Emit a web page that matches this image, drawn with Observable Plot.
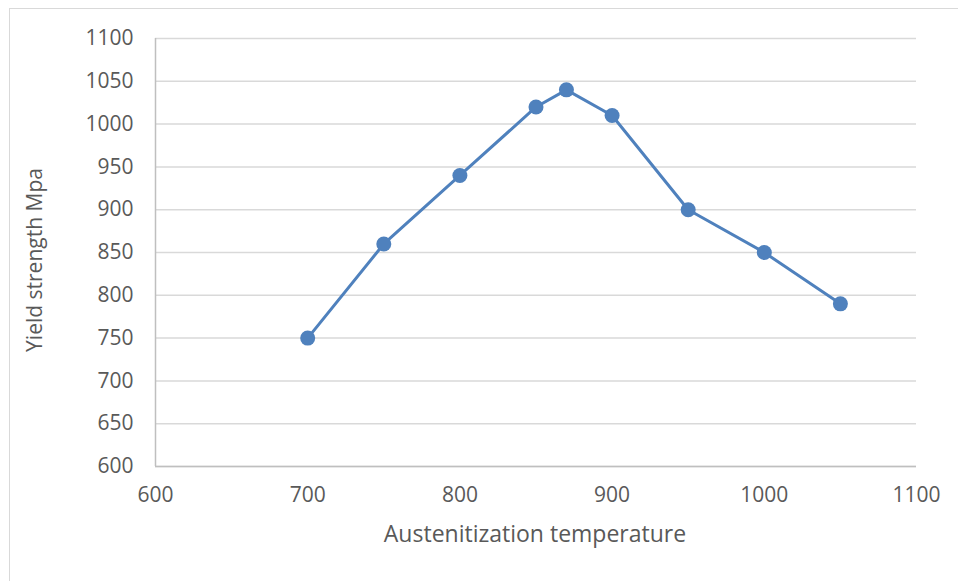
<!DOCTYPE html>
<html>
<head>
<meta charset="utf-8">
<script src="https://cdn.jsdelivr.net/npm/d3@7"></script>
<script src="https://cdn.jsdelivr.net/npm/@observablehq/plot@0.6"></script>
<style>
  html, body { margin: 0; padding: 0; background: #fff; }
  #wrap { position: relative; width: 958px; height: 581px; overflow: hidden; }
  #frame { position: absolute; left: 9px; top: 8px; width: 1000px; height: 1000px;
           border-top: 1.5px solid #d9d9d9; border-left: 1.5px solid #d9d9d9; box-sizing: border-box; }
  #chart { position: absolute; left: 0; top: 0; }
</style>
</head>
<body>
<div id="wrap"><div id="frame"></div><div id="chart"></div></div>
<script>
const temperature = [700, 750, 800, 850, 870, 900, 950, 1000, 1050];
const yieldStrength = [750, 860, 940, 1020, 1040, 1010, 900, 850, 790];
const xTicks = [600, 700, 800, 900, 1000, 1100];
const yTicks = [600, 650, 700, 750, 800, 850, 900, 950, 1000, 1050, 1100];
const xLabel = "Austenitization temperature";
const yLabel = "Yield strength Mpa";

const data = temperature.map((t, i) => ({t, y: yieldStrength[i]}));
const font = "'Open Sans', 'Noto Sans', sans-serif";
const fmt = d => String(d);

const chart = Plot.plot({
  width: 958,
  height: 581,
  marginLeft: 155,
  marginRight: 42,
  marginTop: 38,
  marginBottom: 115,
  style: {fontFamily: font, fontSize: "20.5px", color: "#595959", background: "transparent"},
  x: {domain: [600, 1100], ticks: xTicks, label: null},
  y: {domain: [600, 1100], ticks: yTicks, label: null},
  marks: [
    Plot.gridY(yTicks, {stroke: "#d9d9d9", strokeOpacity: 1, strokeWidth: 1.5}),
    Plot.ruleX([600], {stroke: "#bfbfbf", strokeWidth: 1.5}),
    Plot.ruleY([600], {stroke: "#bfbfbf", strokeWidth: 1.5}),
    Plot.axisY(yTicks, {tickSize: 0, tickPadding: 22, tickFormat: fmt, fill: "#595959", fontSize: 21}),
    Plot.axisX(xTicks, {tickSize: 0, tickPadding: 21, tickFormat: fmt, fill: "#595959", fontSize: 21}),
    Plot.line(data, {x: "t", y: "y", stroke: "#4f81bd", strokeWidth: 3}),
    Plot.dot(data, {x: "t", y: "y", r: 7.5, fill: "#4f81bd", stroke: "none"})
  ]
});
document.getElementById("chart").appendChild(chart);

const svg = d3.select(chart);
svg.selectAll("g[aria-label*='tick label']").attr("font-size", 21).style("font-size", "21px");
svg.selectAll("g[aria-label*='tick label'] text").style("font-size", "21px");
svg.append("text")
  .attr("x", 535).attr("y", 536)
  .attr("text-anchor", "middle").attr("dominant-baseline", "middle")
  .attr("fill", "#595959").style("font-size", "23px").style("font-family", font)
  .text(xLabel);
svg.append("text")
  .attr("transform", "translate(36,260) rotate(-90)")
  .attr("text-anchor", "middle").attr("dominant-baseline", "middle")
  .attr("fill", "#595959").style("font-size", "21px").style("font-family", font)
  .text(yLabel);
</script>
</body>
</html>
